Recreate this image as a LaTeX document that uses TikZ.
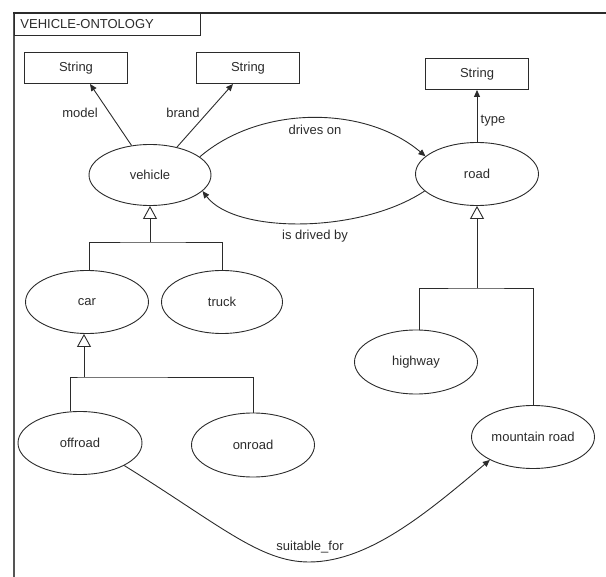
\documentclass[tikz,border=0pt]{standalone}
\usepackage{fontspec}
\setmainfont{Liberation Sans}
\usetikzlibrary{arrows.meta,shapes.geometric}
\definecolor{ink}{HTML}{2B2B2B}
\definecolor{framegray}{HTML}{555555}
\begin{document}
\begin{tikzpicture}[x=1pt,y=-1pt,
  font=\fontsize{13}{15}\selectfont,
  every node/.style={text=ink},
  cls/.style={draw=ink, line width=0.9pt, ellipse, minimum width=123pt, minimum height=63pt, inner sep=0pt},
  lit/.style={draw=ink, line width=0.9pt, rectangle, minimum width=103pt, minimum height=31pt, inner sep=0pt},
  rel/.style={draw=ink, line width=0.9pt, -{Triangle[length=7pt,width=6pt]}},
  isa/.style={draw=ink, line width=0.9pt, -{Triangle[open,length=13pt,width=14pt,fill=white]}},
  link/.style={draw=ink, line width=0.9pt},
  lbl/.style={inner sep=0pt}
]
\useasboundingbox (0,0) rectangle (606,577);

% package frame and its tab
\draw[framegray, line width=2.2pt] (14,12) -- (14,577);
\draw[ink, line width=1.2pt] (13,13) -- (606,13);
\node[draw=ink, line width=0.9pt, anchor=north west, minimum width=186pt, minimum height=22pt,
      text width=174pt, inner xsep=6pt, inner ysep=0pt, align=left] (title) at (14,13) {VEHICLE-ONTOLOGY};

% literal types
\node[lit] (s1) at (76,68) {String};
\node[lit] (s2) at (248,68) {String};
\node[lit] (s3) at (477,74) {String};

% classes
\node[cls, minimum width=122pt, minimum height=61pt] (vehicle) at (150,175) {vehicle};
\node[cls] (road) at (477,174) {road};
\node[cls] (car) at (87,302) {car};
\node[cls, minimum width=121pt] (truck) at (222,302) {truck};
\node[cls, minimum height=64pt] (highway) at (416,362) {highway};
\node[cls, minimum width=124pt] (offroad) at (80,443) {offroad};
\node[cls, minimum height=64pt] (onroad) at (253,445) {onroad};
\node[cls] (mountain) at (533,437) {mountain road};

% attributes
\draw[rel] (vehicle.122) -- ([xshift=14pt]s1.south);
\draw[rel] (vehicle.46) -- ([xshift=-15pt]s2.south);
\draw[rel] (road.north) -- (s3.south);
\node[lbl] (lmodel) at (80,113) {model};
\node[lbl] (lbrand) at (183,113) {brand};
\node[lbl] (ltype) at (493,121) {type};

% associations
\draw[rel] (vehicle.20) .. controls (260,105) and (365,105) .. (road.161);
\node[lbl] (ldrives) at (315,130) {drives on};
\draw[rel] (road.198) .. controls (360,234) and (235,234) .. (vehicle.-17);
\node[lbl] (ldriven) at (315,236) {is drived by};
\draw[rel] (offroad.-27) .. controls (220,525) and (260,562) .. (309,562)
           .. controls (370,562) and (430,510) .. (mountain.208);
\node[lbl] (lsuit) at (310,547) {suitable\_for};

% generalisations
\draw[link] (car.north) ++(2pt,0) |- (150,242) -| (truck.north);
\draw[isa] (vehicle.south |- 0,242) -- (vehicle.south);

\draw[link] ([xshift=-10pt]offroad.north) |- (84,377) -| (onroad.north);
\draw[isa] ([xshift=-3pt]car.south |- 0,377) -- ([xshift=-3pt]car.south);

\draw[link] ([xshift=3pt]highway.north) |- (476,288) -| (mountain.north);
\draw[isa] (road.south |- 0,288) -- (road.south);
\end{tikzpicture}
\end{document}
